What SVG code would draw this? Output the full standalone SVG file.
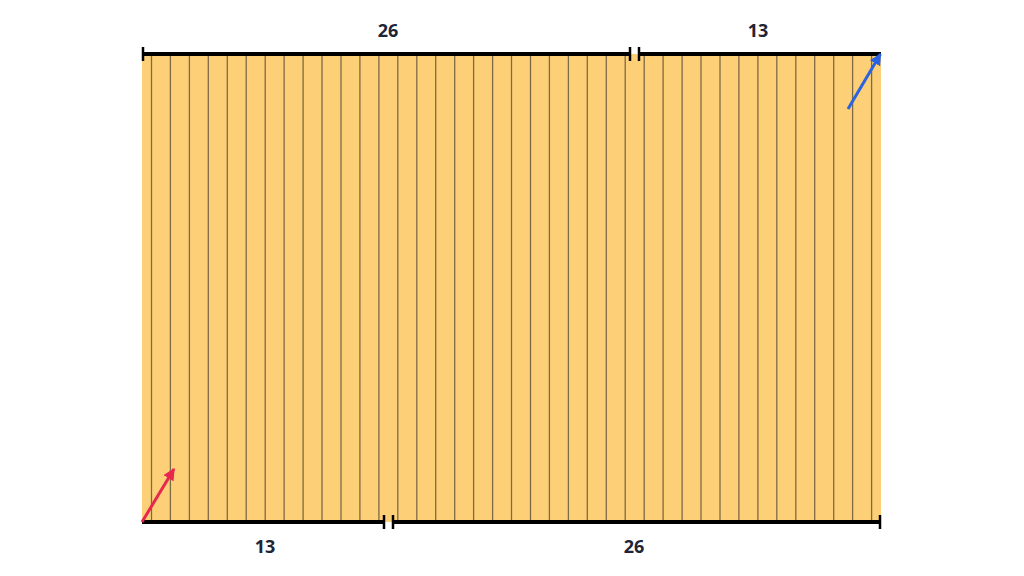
<svg xmlns="http://www.w3.org/2000/svg" width="1024" height="576" viewBox="0 0 1024 576">
  <defs>
    <style>
      .grid line { stroke: #7d6a47; stroke-width: 1.3; }
      .dim { stroke: #000; stroke-width: 4; fill: none; }
      .tick { stroke: #000; stroke-width: 2.5; }
      .lbl { font-family: "Open Sans", "Noto Sans", sans-serif; font-weight: bold; font-size: 18px; fill: #1e2535; text-anchor: middle; }
    </style>
    <marker id="ahRed" viewBox="0 0 10 10" refX="9" refY="5" markerWidth="4" markerHeight="4" orient="auto" markerUnits="strokeWidth">
      <path d="M0,0 L10,5 L0,10 Z" fill="#e8274f"/>
    </marker>
    <marker id="ahBlue" viewBox="0 0 10 10" refX="9" refY="5" markerWidth="4" markerHeight="4" orient="auto" markerUnits="strokeWidth">
      <path d="M0,0 L10,5 L0,10 Z" fill="#2a62e0"/>
    </marker>
  </defs>
  <rect width="1024" height="576" fill="#ffffff"/>
  <g id="board">
    <rect x="142" y="54" width="739" height="468" fill="#fdd077"/>
    <g class="grid">
      <line x1="151.5" y1="54" x2="151.5" y2="522"/>
      <line x1="170.4" y1="54" x2="170.4" y2="522"/>
      <line x1="189.4" y1="54" x2="189.4" y2="522"/>
      <line x1="208.3" y1="54" x2="208.3" y2="522"/>
      <line x1="227.3" y1="54" x2="227.3" y2="522"/>
      <line x1="246.2" y1="54" x2="246.2" y2="522"/>
      <line x1="265.2" y1="54" x2="265.2" y2="522"/>
      <line x1="284.1" y1="54" x2="284.1" y2="522"/>
      <line x1="303.1" y1="54" x2="303.1" y2="522"/>
      <line x1="322.0" y1="54" x2="322.0" y2="522"/>
      <line x1="341.0" y1="54" x2="341.0" y2="522"/>
      <line x1="359.9" y1="54" x2="359.9" y2="522"/>
      <line x1="378.9" y1="54" x2="378.9" y2="522"/>
      <line x1="397.8" y1="54" x2="397.8" y2="522"/>
      <line x1="416.8" y1="54" x2="416.8" y2="522"/>
      <line x1="435.7" y1="54" x2="435.7" y2="522"/>
      <line x1="454.7" y1="54" x2="454.7" y2="522"/>
      <line x1="473.6" y1="54" x2="473.6" y2="522"/>
      <line x1="492.6" y1="54" x2="492.6" y2="522"/>
      <line x1="511.5" y1="54" x2="511.5" y2="522"/>
      <line x1="530.5" y1="54" x2="530.5" y2="522"/>
      <line x1="549.4" y1="54" x2="549.4" y2="522"/>
      <line x1="568.4" y1="54" x2="568.4" y2="522"/>
      <line x1="587.3" y1="54" x2="587.3" y2="522"/>
      <line x1="606.3" y1="54" x2="606.3" y2="522"/>
      <line x1="625.2" y1="54" x2="625.2" y2="522"/>
      <line x1="644.2" y1="54" x2="644.2" y2="522"/>
      <line x1="663.1" y1="54" x2="663.1" y2="522"/>
      <line x1="682.1" y1="54" x2="682.1" y2="522"/>
      <line x1="701.0" y1="54" x2="701.0" y2="522"/>
      <line x1="720.0" y1="54" x2="720.0" y2="522"/>
      <line x1="738.9" y1="54" x2="738.9" y2="522"/>
      <line x1="757.9" y1="54" x2="757.9" y2="522"/>
      <line x1="776.8" y1="54" x2="776.8" y2="522"/>
      <line x1="795.8" y1="54" x2="795.8" y2="522"/>
      <line x1="814.7" y1="54" x2="814.7" y2="522"/>
      <line x1="833.7" y1="54" x2="833.7" y2="522"/>
      <line x1="852.6" y1="54" x2="852.6" y2="522"/>
      <line x1="871.6" y1="54" x2="871.6" y2="522"/>
    </g>
  </g>
  <g id="dim-top">
    <line class="dim" x1="142" y1="54" x2="630" y2="54"/>
    <line class="dim" x1="639" y1="54" x2="881" y2="54"/>
    <line class="tick" x1="143" y1="47" x2="143" y2="61"/>
    <line class="tick" x1="630" y1="47" x2="630" y2="61"/>
    <line class="tick" x1="639" y1="47" x2="639" y2="61"/>
    <text class="lbl" x="388" y="37">26</text>
    <text class="lbl" x="758" y="37">13</text>
  </g>
  <g id="dim-bottom">
    <line class="dim" x1="142" y1="522" x2="384" y2="522"/>
    <line class="dim" x1="393" y1="522" x2="881" y2="522"/>
    <line class="tick" x1="384" y1="515" x2="384" y2="529"/>
    <line class="tick" x1="393" y1="515" x2="393" y2="529"/>
    <line class="tick" x1="880" y1="515" x2="880" y2="529"/>
    <text class="lbl" x="265" y="553">13</text>
    <text class="lbl" x="634" y="553">26</text>
  </g>
  <g id="connectors">
    <line x1="142" y1="522" x2="174" y2="469" stroke="#e8274f" stroke-width="3" marker-end="url(#ahRed)"/>
    <line x1="848" y1="109" x2="880.5" y2="54" stroke="#2a62e0" stroke-width="3" marker-end="url(#ahBlue)"/>
  </g>
</svg>
